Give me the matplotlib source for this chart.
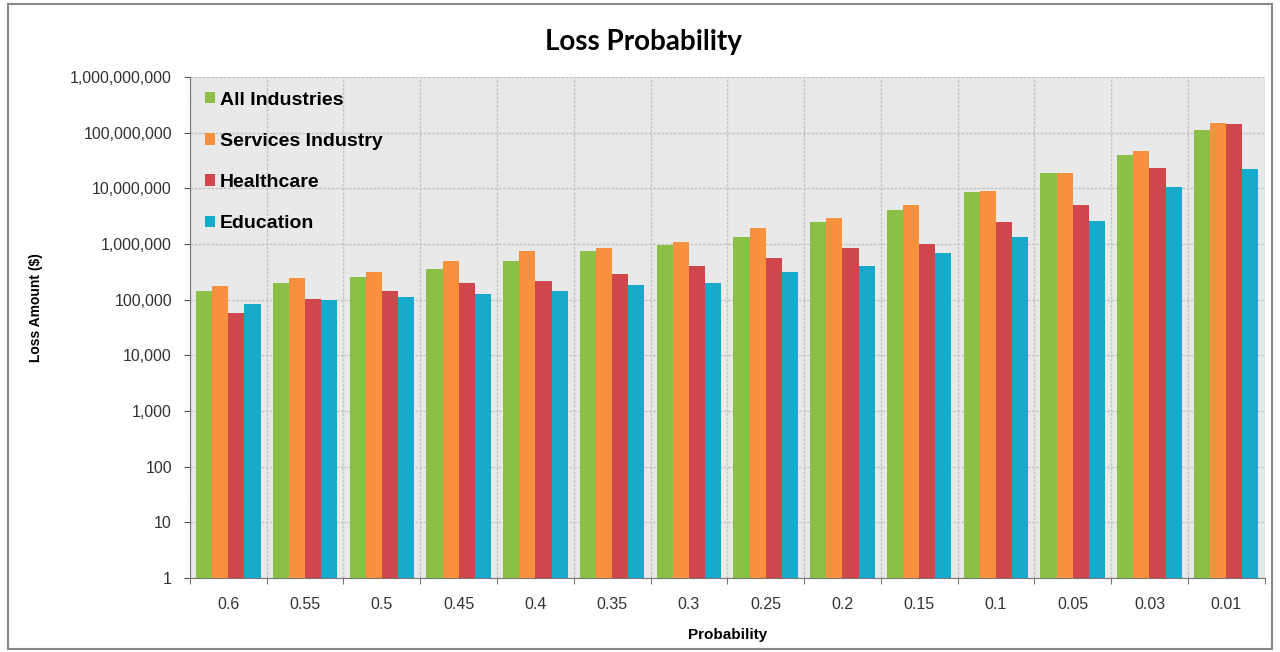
import matplotlib
matplotlib.use("Agg")
import matplotlib.pyplot as plt
import matplotlib.ticker as mticker
from matplotlib.patches import Rectangle
import numpy as np

plt.rcParams['font.family'] = ['Liberation Sans', 'DejaVu Sans']

probabilities = ["0.6", "0.55", "0.5", "0.45", "0.4", "0.35", "0.3",
                 "0.25", "0.2", "0.15", "0.1", "0.05", "0.03", "0.01"]
all_industries = [145e3, 195e3, 257e3, 354e3, 491e3, 742e3, 960e3,
                  1.35e6, 2.5e6, 4.1e6, 8.4e6, 19e6, 40e6, 110e6]
services_industry = [175e3, 240e3, 315e3, 491e3, 742e3, 830e3, 1.07e6,
                     1.9e6, 2.9e6, 5.0e6, 8.9e6, 19e6, 46e6, 149e6]
healthcare = [57e3, 102e3, 144e3, 195e3, 215e3, 283e3, 400e3,
              550e3, 830e3, 980e3, 2.5e6, 5.1e6, 23.4e6, 141e6]
education = [83e3, 98e3, 112e3, 126e3, 144e3, 182e3, 195e3,
             315e3, 400e3, 695e3, 1.35e6, 2.6e6, 10.7e6, 21.9e6]

series = [("All Industries", all_industries, "#8cbf45"),
          ("Services Industry", services_industry, "#f7913d"),
          ("Healthcare", healthcare, "#d0474b"),
          ("Education", education, "#18aacb")]

fig = plt.figure(figsize=(12.8, 6.52), dpi=100)
ax = fig.add_axes([0.1484, 0.1135, 0.8396, 0.7685])
ax.set_facecolor("#e9e9e9")

x = np.arange(len(probabilities))
w = 0.21
for i, (name, vals, col) in enumerate(series):
    ax.bar(x + (i - 1.5) * w, vals, w, color=col, label=name, zorder=3)

ax.set_yscale("log")
ax.set_ylim(1, 1e9)
ax.set_xlim(-0.5, len(probabilities) - 0.5)
ax.yaxis.set_major_locator(mticker.LogLocator(base=10, numticks=12))
ax.yaxis.set_minor_locator(mticker.NullLocator())
ax.yaxis.set_major_formatter(mticker.FuncFormatter(lambda v, p: f"{int(round(v)):,}"))

ax.set_xticks(x)
ax.set_xticklabels(probabilities)
ax.set_xticks(np.arange(len(probabilities) + 1) - 0.5, minor=True)
ax.tick_params(axis="x", which="major", length=0, pad=14, labelsize=11.5, labelcolor="#333333")
ax.tick_params(axis="x", which="minor", length=4, color="#555555")
ax.tick_params(axis="y", which="major", length=4, pad=9, labelsize=11.5, labelcolor="#333333", color="#555555")

ax.grid(True, axis="y", which="major", color="#c4c4c4", linestyle=(0, (2, 1)), linewidth=1, zorder=0)
ax.grid(True, axis="x", which="minor", color="#c4c4c4", linestyle=(0, (2, 1)), linewidth=1, zorder=0)
for s in ["top", "right"]:
    ax.spines[s].set_visible(False)
ax.spines["left"].set_color("#777777")
ax.spines["bottom"].set_color("#777777")

fig.text(0.503, 0.935, "Loss Probability", fontsize=20, fontweight="bold",
         ha="center", va="center", family=["Lato", "DejaVu Sans"])
ax.set_ylabel("Loss Amount ($)", fontsize=10, fontweight="bold")
ax.yaxis.set_label_coords(-0.137, 0.54)
ax.set_xlabel("Probability", fontsize=11, fontweight="bold")
ax.xaxis.set_label_coords(0.5, -0.1)

leg = ax.legend(loc="upper left", frameon=False, prop={"size": 14, "weight": "bold"},
                handlelength=0.55, handleheight=0.55, handletextpad=0.25,
                labelspacing=1.25, borderaxespad=0.35)

fig.patches.append(Rectangle((0.006, 0.004), 0.988, 0.99, transform=fig.transFigure,
                             fill=False, edgecolor="#888888", linewidth=1.5))

fig.savefig("out.png", dpi=100)
